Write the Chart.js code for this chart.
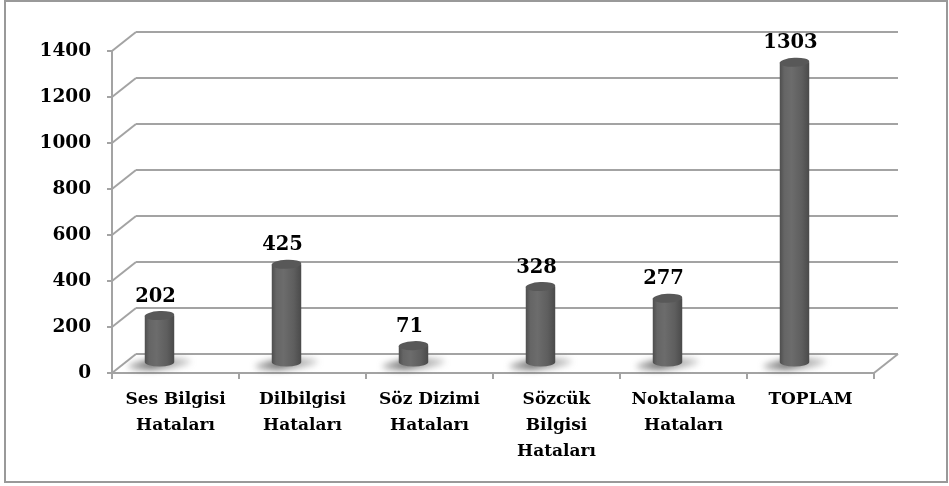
<!DOCTYPE html>
<html>
<head>
<meta charset="utf-8">
<script src="https://cdn.jsdelivr.net/npm/chart.js@4.4.1/dist/chart.umd.min.js"></script>
<style>
  html, body { margin: 0; padding: 0; background: #ffffff; }
  #wrap { position: relative; width: 949px; height: 486px; }
</style>
</head>
<body>
<div id="wrap"><canvas id="c"></canvas></div>
<script>
// ---- Data ----
const categories = [
  ["Ses Bilgisi", "Hataları"],
  ["Dilbilgisi", "Hataları"],
  ["Söz Dizimi", "Hataları"],
  ["Sözcük", "Bilgisi", "Hataları"],
  ["Noktalama", "Hataları"],
  ["TOPLAM"]
];
const values = [202, 425, 71, 328, 277, 1303];
const yMin = 0;
const yMax = 1400;
const yStep = 200;

// ---- Styling ----
const FONT = "'DejaVu Serif', serif";
const GRID = '#a3a3a3';
const DEPTH_X = 24, DEPTH_Y = -19;

function line(ctx, x1, y1, x2, y2) {
  ctx.beginPath(); ctx.moveTo(x1, y1); ctx.lineTo(x2, y2); ctx.stroke();
}

const frame3D = {
  id: 'frame3D',
  beforeDraw(chart) {
    const ctx = chart.ctx;
    ctx.save();
    ctx.strokeStyle = '#999999';
    ctx.lineWidth = 2;
    ctx.strokeRect(5, 1, 942, 481);
    ctx.restore();
  },
  beforeDatasetsDraw(chart) {
    const { ctx, chartArea: a, scales: { x, y } } = chart;
    ctx.save();
    ctx.strokeStyle = GRID;
    ctx.lineWidth = 2;
    ctx.lineCap = 'butt';
    const p0 = y.getPixelForValue(0);
    y.ticks.forEach(t => {
      const py = y.getPixelForValue(t.value);
      line(ctx, a.left - 5, py, a.left, py);
      line(ctx, a.left, py, a.left + DEPTH_X, py + DEPTH_Y);
      line(ctx, a.left + DEPTH_X, py + DEPTH_Y, a.right + DEPTH_X, py + DEPTH_Y);
    });
    // floor
    line(ctx, a.right, p0, a.right + DEPTH_X, p0 + DEPTH_Y);
    line(ctx, a.left, p0, a.right, p0);
    // front value axis
    line(ctx, a.left, a.top, a.left, p0);
    // category tick marks
    const n = categories.length;
    const half = (x.getPixelForValue(1) - x.getPixelForValue(0)) / 2;
    for (let i = 0; i < n; i++) {
      const xb = x.getPixelForValue(i) - half;
      line(ctx, xb, p0, xb, p0 + 6);
    }
    line(ctx, x.getPixelForValue(n - 1) + half, p0, x.getPixelForValue(n - 1) + half, p0 + 6);
    ctx.restore();
  },
  afterDatasetsDraw(chart) {
    const { ctx } = chart;
    const meta = chart.getDatasetMeta(0);
    const ds = chart.data.datasets[0].data;
    const dOff = -11; // mid-depth
    const shift = -16;
    ctx.save();
    // shadows
    meta.data.forEach((bar) => {
      const cx = bar.x + shift;
      const by = bar.base + dOff;
      const rx = bar.width / 2;
      ctx.save();
      ctx.filter = 'blur(3px)';
      const sg = ctx.createLinearGradient(cx - rx - 18, 0, cx + rx + 18, 0);
      sg.addColorStop(0, 'rgba(90,90,90,0.35)');
      sg.addColorStop(0.35, 'rgba(80,80,80,0.75)');
      sg.addColorStop(1, 'rgba(110,110,110,0.25)');
      ctx.fillStyle = sg;
      ctx.beginPath();
      ctx.ellipse(cx, by + 2, rx + 17, 5.5, -0.08, 0, Math.PI * 2);
      ctx.fill();
      ctx.restore();
    });
    // cylinders
    meta.data.forEach((bar, i) => {
      const cx = bar.x + shift;
      const rx = bar.width / 2;
      const ry = 4.5;
      const by = bar.base + dOff;
      const ty = bar.y + dOff;
      const g = ctx.createLinearGradient(cx - rx, 0, cx + rx, 0);
      g.addColorStop(0, '#4e4e4e');
      g.addColorStop(0.15, '#656565');
      g.addColorStop(0.4, '#6c6c6c');
      g.addColorStop(0.75, '#5e5e5e');
      g.addColorStop(1, '#4a4a4a');
      ctx.fillStyle = g;
      ctx.beginPath();
      ctx.moveTo(cx - rx, ty);
      ctx.lineTo(cx - rx, by);
      ctx.ellipse(cx, by, rx, ry, 0, Math.PI, 0, true);
      ctx.lineTo(cx + rx, ty);
      ctx.closePath();
      ctx.fill();
      // top cap
      ctx.fillStyle = '#585858';
      ctx.beginPath();
      ctx.ellipse(cx, ty, rx, ry, -0.05, 0, Math.PI * 2);
      ctx.fill();
      // value label
      ctx.fillStyle = '#000000';
      ctx.font = 'bold 19.5px ' + FONT;
      ctx.textAlign = 'center';
      ctx.textBaseline = 'middle';
      ctx.fillText(String(ds[i]), cx - 4, ty - 19);
    });
    ctx.restore();
  }
};

new Chart(document.getElementById('c'), {
  type: 'bar',
  data: {
    labels: categories,
    datasets: [{
      data: values,
      backgroundColor: 'rgba(0,0,0,0)',
      borderWidth: 0,
      barPercentage: 0.29,
      categoryPercentage: 0.8
    }]
  },
  options: {
    responsive: true,
    maintainAspectRatio: false,
    animation: false,
    events: [],
    layout: { padding: { top: 51, right: 75, left: 0, bottom: 0 } },
    plugins: { legend: { display: false }, tooltip: { enabled: false } },
    scales: {
      x: {
        grid: { display: false, drawTicks: false },
        border: { display: false },
        ticks: {
          color: '#000000',
          padding: 14,
          maxRotation: 0,
          autoSkip: false,
          font: { family: FONT, weight: 'bold', size: 17, lineHeight: '26px' }
        },
        afterFit(s) { s.height = 113; }
      },
      y: {
        min: yMin,
        max: yMax,
        grid: { display: false, drawTicks: false },
        border: { display: false },
        ticks: {
          stepSize: yStep,
          color: '#000000',
          padding: 21,
          font: { family: FONT, weight: 'bold', size: 18.5 },
          callback: (v) => String(v)
        },
        afterFit(s) { s.width = 112; }
      }
    }
  },
  plugins: [frame3D]
});
</script>
</body>
</html>
